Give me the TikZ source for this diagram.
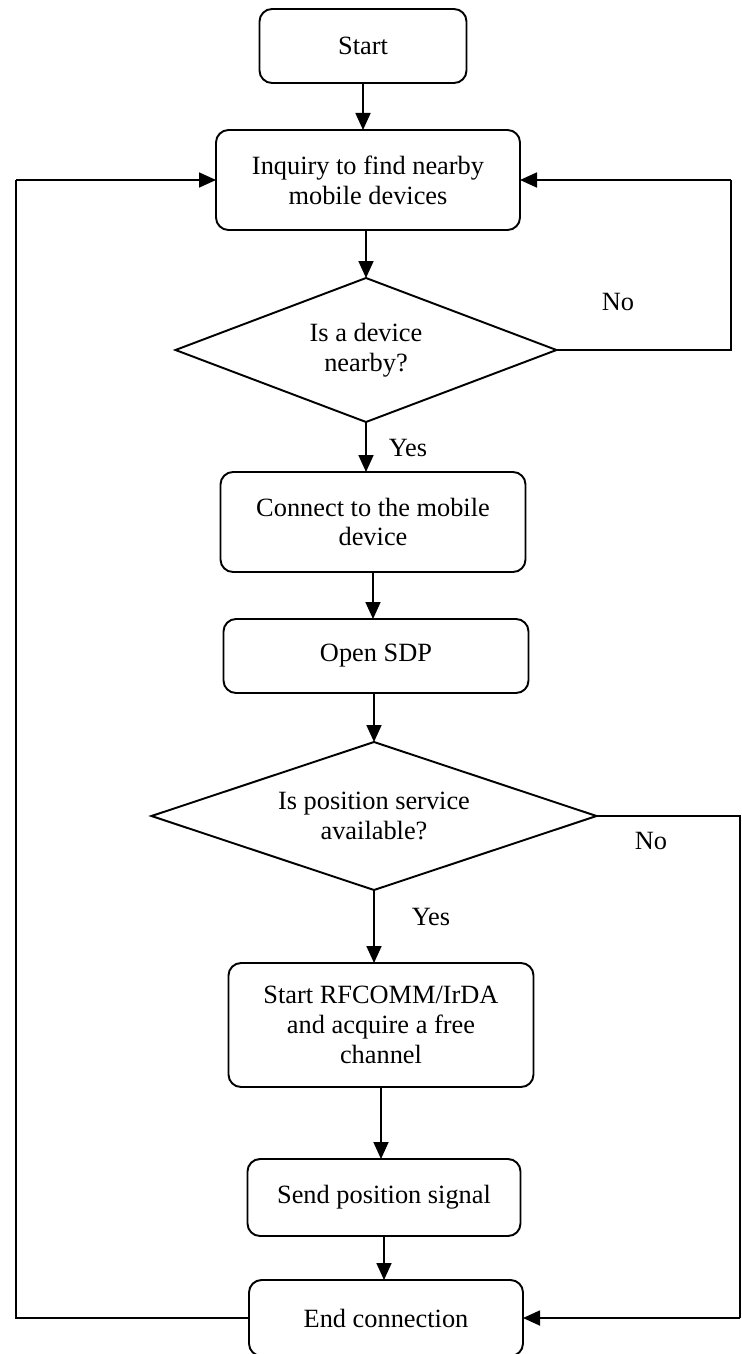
\documentclass[tikz,border=0pt]{standalone}
\usepackage{fontspec}
\setmainfont{Liberation Serif}
\usetikzlibrary{shapes.geometric,arrows.meta}

\tikzset{
	stepbox/.style={draw, line width=1.1pt, rounded corners=2.5mm, align=center, inner sep=0pt, outer sep=0pt},
	query/.style={draw, diamond, line width=1.1pt, aspect=3, align=center, inner sep=0pt, outer sep=0pt},
	flow/.style={line width=1pt, -{Triangle[length=3.4mm,width=3mm]}},
	loopline/.style={line width=1pt},
}

\begin{document}
\begin{tikzpicture}[font=\fontsize{15pt}{17pt}\selectfont]
	\useasboundingbox (0,0) rectangle (14.84,-27.08);

	% start and inquiry
	\node [stepbox, minimum width=4.14cm, minimum height=1.48cm] (start) at (7.26,-0.92) {Start};
	\node [stepbox, minimum width=6.08cm, minimum height=2.00cm] (inquiry) at (7.36,-3.60) {Inquiry to find nearby\\mobile devices};

	% first decision
	\node [query, minimum width=7.62cm, minimum height=2.88cm] (near) at (7.32,-7.00) {Is a device\\nearby?};
	\node (no1) at (12.36,-6.04) {No};
	\node (yes1) at (8.16,-8.96) {Yes};

	% connect and sdp
	\node [stepbox, minimum width=6.10cm, minimum height=2.00cm] (connect) at (7.46,-10.44) {Connect to the mobile\\device};
	\node [stepbox, minimum width=6.10cm, minimum height=1.48cm] (sdp) at (7.52,-13.12) {Open SDP};

	% second decision
	\node [query, minimum width=8.90cm, minimum height=2.96cm] (avail) at (7.48,-16.32) {Is position service\\available?};
	\node (no2) at (13.02,-16.82) {No};
	\node (yes2) at (8.62,-18.34) {Yes};

	% rfcomm, send, end
	\node [stepbox, minimum width=6.10cm, minimum height=2.48cm] (rfcomm) at (7.62,-20.50) {Start RFCOMM/IrDA\\and acquire a free\\channel};
	\node [stepbox, minimum width=5.46cm, minimum height=1.54cm] (send) at (7.68,-23.95) {Send position signal};
	\node [stepbox, minimum width=5.48cm, minimum height=1.52cm] (end) at (7.72,-26.36) {End connection};

	% loop corners
	\coordinate (back) at (0.32,0);
	\coordinate (retry) at (14.62,0);
	\coordinate (skip) at (14.80,0);

	% main flow
	\draw [flow] (start.south) -- (start.south |- inquiry.north);
	\draw [flow] (near.north |- inquiry.south) -- (near.north);
	\draw [flow] (near.south) -- (near.south |- connect.north);
	\draw [flow] (connect.south) -- (connect.south |- sdp.north);
	\draw [flow] (avail.north |- sdp.south) -- (avail.north);
	\draw [flow] (avail.south) -- (avail.south |- rfcomm.north);
	\draw [flow] (rfcomm.south) -- (rfcomm.south |- send.north);
	\draw [flow] (send.south) -- (send.south |- end.north);

	% no branches
	\draw [loopline] (near.east) -- (retry |- near.east) -- (retry |- inquiry.east);
	\draw [flow] (retry |- inquiry.east) -- (inquiry.east);
	\draw [loopline] (avail.east) -- (skip |- avail.east) -- (skip |- end.east);
	\draw [flow] (skip |- end.east) -- (end.east);

	% back to inquiry
	\draw [loopline] (end.west) -- (back |- end.west) -- (back |- inquiry.west);
	\draw [flow] (back |- inquiry.west) -- (inquiry.west);

\end{tikzpicture}
\end{document}
